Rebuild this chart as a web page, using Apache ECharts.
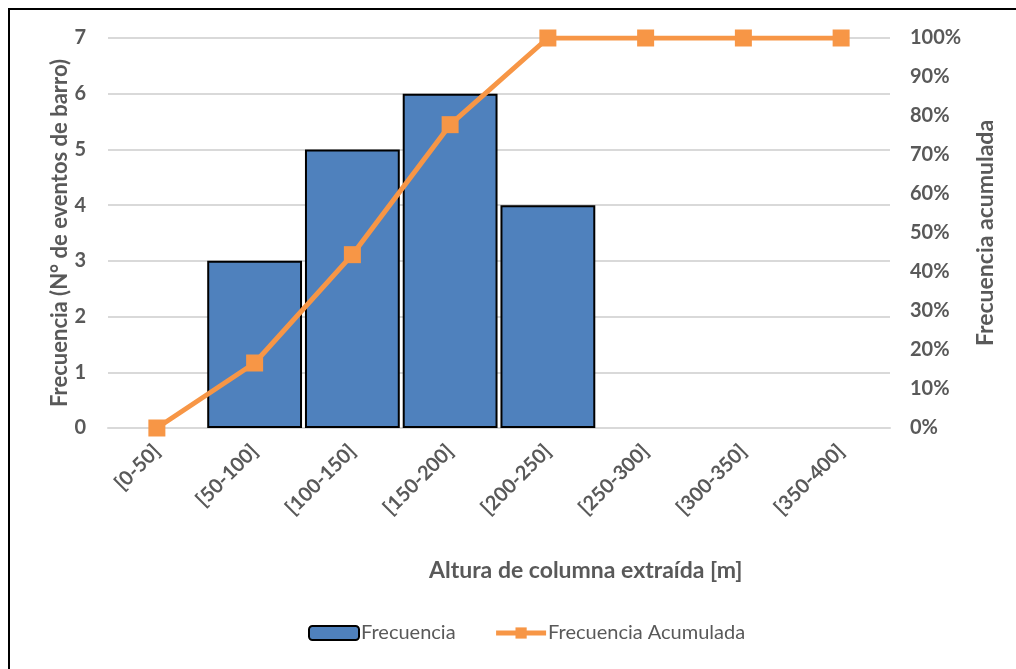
<!DOCTYPE html>
<html>
<head>
<meta charset="utf-8">
<script src="https://cdn.jsdelivr.net/npm/echarts@6/dist/echarts.min.js"></script>
<style>
  html, body { margin: 0; padding: 0; background: #fff; }
  #frame { position: absolute; left: 8px; top: 8px; width: 1008px; height: 661px;
           border-left: 2px solid #000; border-top: 2px solid #000; box-sizing: border-box; }
  #chart { position: absolute; left: 0; top: 0; width: 1016px; height: 669px; }
</style>
</head>
<body>
<div id="frame"></div>
<div id="chart"></div>
<script>
// Height intervals of extracted column [m]
const categories = ['[0-50]', '[50-100]', '[100-150]', '[150-200]', '[200-250]', '[250-300]', '[300-350]', '[350-400]'];
// Number of mud events per interval
const frecuencia = [0, 3, 5, 6, 4, 0, 0, 0];
// Cumulative share of events (fraction of total)
const frecuenciaAcumulada = [0, 3 / 18, 8 / 18, 14 / 18, 1, 1, 1, 1];

const FONT = 'Lato';
const GREY = '#595959';

// empty intervals get no outline so nothing is drawn on the baseline
const barData = frecuencia.map(v => v === 0
  ? { value: v, itemStyle: { borderWidth: 0 } }
  : v);

const chart = echarts.init(document.getElementById('chart'));
chart.setOption({
  animation: false,
  textStyle: { fontFamily: FONT },
  title: {
    text: 'Altura de columna extraída [m]',
    left: 424, top: 554,
    textStyle: { fontFamily: FONT, fontSize: 23, fontWeight: 'bold', color: GREY }
  },
  grid: { left: 108, right: 126, top: 38, bottom: 241 },
  legend: {
    bottom: 21, left: 303,
    itemWidth: 50, itemHeight: 14, itemGap: 38,
    lineStyle: { width: 5 },
    textStyle: { fontFamily: FONT, fontSize: 20, color: GREY, padding: [0, 0, 0, -3] },
    data: ['Frecuencia', 'Frecuencia Acumulada']
  },
  xAxis: {
    type: 'category',
    data: categories,
    axisTick: { show: false },
    axisLine: { lineStyle: { color: '#D9D9D9', width: 2 } },
    axisLabel: { rotate: 45, fontSize: 20, fontWeight: 'bold', color: GREY, margin: 20, interval: 0 }
  },
  yAxis: [
    {
      type: 'value', min: 0, max: 7, interval: 1,
      name: 'Frecuencia (N° de eventos de barro)',
      nameLocation: 'middle', nameRotate: 90, nameGap: 37, nameMoveOverlap: false,
      nameTextStyle: { fontFamily: FONT, fontSize: 22, fontWeight: 'bold', color: GREY },
      axisLine: { show: false }, axisTick: { show: false },
      axisLabel: { fontSize: 20, fontWeight: 'bold', color: GREY, margin: 22 },
      splitLine: { lineStyle: { color: '#D9D9D9', width: 2 } }
    },
    {
      type: 'value', min: 0, max: 1, interval: 0.1,
      name: 'Frecuencia acumulada',
      nameLocation: 'middle', nameRotate: 90, nameGap: 84, nameMoveOverlap: false,
      nameTextStyle: { fontFamily: FONT, fontSize: 23, fontWeight: 'bold', color: GREY },
      axisLine: { show: false }, axisTick: { show: false },
      axisLabel: { fontSize: 20, fontWeight: 'bold', color: GREY, margin: 20,
                   formatter: v => Math.round(v * 100) + '%' },
      splitLine: { show: false }
    }
  ],
  series: [
    {
      name: 'Frecuencia',
      type: 'bar',
      data: barData,
      yAxisIndex: 0,
      barCategoryGap: '3%',
      itemStyle: { color: '#4F81BD', borderColor: '#000', borderWidth: 2 }
    },
    {
      name: 'Frecuencia Acumulada',
      type: 'line',
      data: frecuenciaAcumulada,
      yAxisIndex: 1,
      symbol: 'rect', symbolSize: 17,
      lineStyle: { color: '#F79646', width: 5 },
      itemStyle: { color: '#F79646' }
    }
  ]
});
</script>
</body>
</html>
